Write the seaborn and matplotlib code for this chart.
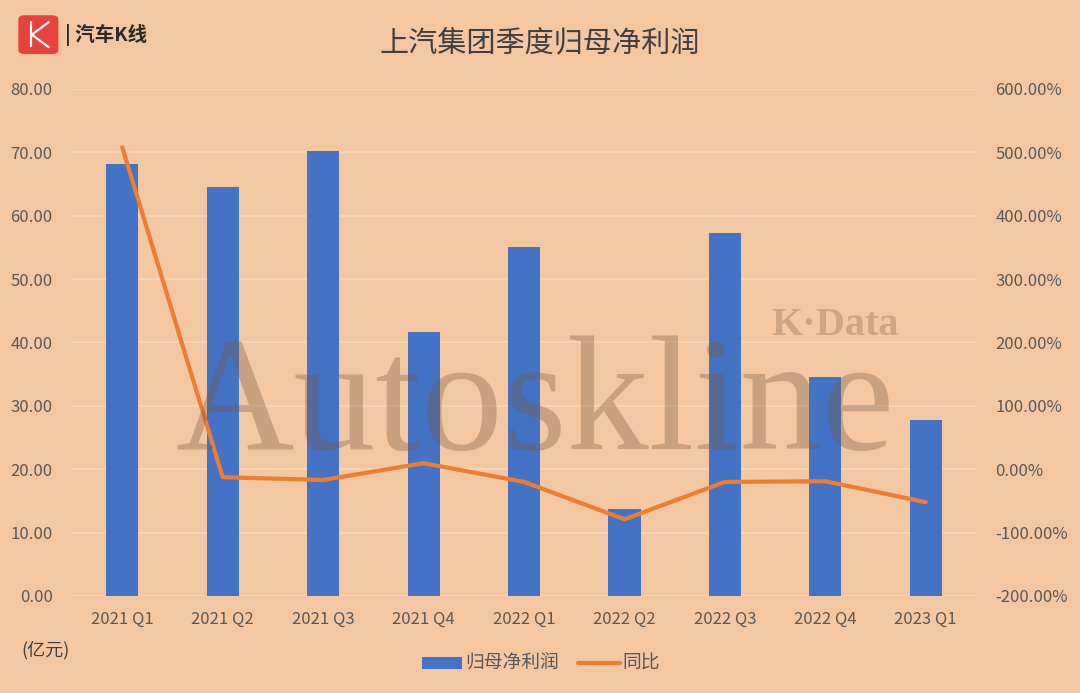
import matplotlib
matplotlib.use("Agg")
import matplotlib.pyplot as plt
import seaborn as sns
import pandas as pd
from matplotlib.patches import FancyBboxPatch, Rectangle
from matplotlib.lines import Line2D

quarters = ["2021 Q1", "2021 Q2", "2021 Q3", "2021 Q4", "2022 Q1",
            "2022 Q2", "2022 Q3", "2022 Q4", "2023 Q1"]
profit = [68.2, 64.5, 70.2, 41.7, 55.0, 13.8, 57.3, 34.5, 27.7]
yoy = [508.0, -12.5, -17.0, 9.5, -20.0, -79.0, -20.0, -19.0, -52.0]

bg = "#F2C7A2"
blue = "#4472C4"
orange = "#ED7D31"
grid_c = "#F6D6BB"
tick_c = "#595959"

sns.set_theme(style="white")
plt.rcParams["font.family"] = ["Noto Sans CJK SC", "DejaVu Sans"]

df = pd.DataFrame({"quarter": quarters, "profit": profit, "yoy": yoy})

fig = plt.figure(figsize=(10.8, 6.93), dpi=100, facecolor=bg)
ax = fig.add_axes([0.0667, 0.14, 0.837, 0.7316])
ax.set_facecolor(bg)

sns.barplot(data=df, x="quarter", y="profit", color=blue, width=0.32,
            saturation=1, linewidth=0, ax=ax, zorder=2)
ax.set_ylim(0, 80)
ax.set_yticks(range(0, 81, 10))
ax.set_yticklabels([f"{v:.2f}" for v in range(0, 81, 10)])
ax.grid(axis="y", color=grid_c, linewidth=1.2, zorder=0)
ax.set_axisbelow(True)
for s in ax.spines.values():
    s.set_visible(False)
ax.set_xlabel("")
ax.set_ylabel("")
ax.tick_params(axis="both", length=0, colors=tick_c, labelsize=12)
ax.tick_params(axis="x", pad=11)
ax.tick_params(axis="y", pad=14)

ax2 = ax.twinx()
sns.lineplot(data=df, x="quarter", y="yoy", color=orange, linewidth=3,
             ax=ax2, sort=False, zorder=3)
ax2.set_ylim(-200, 600)
ax2.set_yticks(range(-200, 601, 100))
ax2.set_yticklabels([f"{v:.2f}%" for v in range(-200, 601, 100)])
for s in ax2.spines.values():
    s.set_visible(False)
ax2.set_ylabel("")
ax2.tick_params(axis="y", length=0, colors=tick_c, labelsize=12, pad=14)
ax.set_xlim(-0.5, 8.5)
ax2.set_xlim(-0.5, 8.5)

# title
fig.text(0.5, 0.938, "上汽集团季度归母净利润", ha="center", va="center",
         fontsize=21, color="#404040")

# logo
logo = FancyBboxPatch((0.020, 0.925), 0.031, 0.05, boxstyle="round,pad=0.003,rounding_size=0.006",
                      transform=fig.transFigure, facecolor="#E8413E", edgecolor="none")
fig.add_artist(logo)
fig.add_artist(Line2D([0.0285, 0.0285], [0.933, 0.968], transform=fig.transFigure,
                      color="white", linewidth=1.6))
fig.add_artist(Line2D([0.045, 0.0295, 0.045], [0.968, 0.950, 0.932], transform=fig.transFigure,
                      color="white", linewidth=1.6))
fig.text(0.060, 0.949, "| 汽车K线", ha="left", va="center", fontsize=14,
         fontweight="bold", color="#2B2B2B")

# watermark
fig.text(0.495, 0.352, "Autoskline", ha="center", va="baseline", fontsize=118,
         family="Liberation Serif", color="#7A5A45", alpha=0.35, zorder=10)
fig.text(0.773, 0.530, "K·Data", ha="center", va="center", fontsize=29,
         family="Liberation Serif", fontweight="bold", color="#7A5A45", alpha=0.3, zorder=10)

# unit
fig.text(0.020, 0.062, "(亿元)", ha="left", va="center", fontsize=13, color="#404040")

# legend
fig.add_artist(Rectangle((0.391, 0.034), 0.037, 0.018, transform=fig.transFigure,
                         facecolor=blue, edgecolor="none"))
fig.text(0.431, 0.043, "归母净利润", ha="left", va="center", fontsize=13.5, color=tick_c)
fig.add_artist(Line2D([0.535, 0.574], [0.043, 0.043], transform=fig.transFigure,
                      color=orange, linewidth=3))
fig.text(0.576, 0.043, "同比", ha="left", va="center", fontsize=13.5, color=tick_c)

fig.savefig("out.png", dpi=100, facecolor=bg)
